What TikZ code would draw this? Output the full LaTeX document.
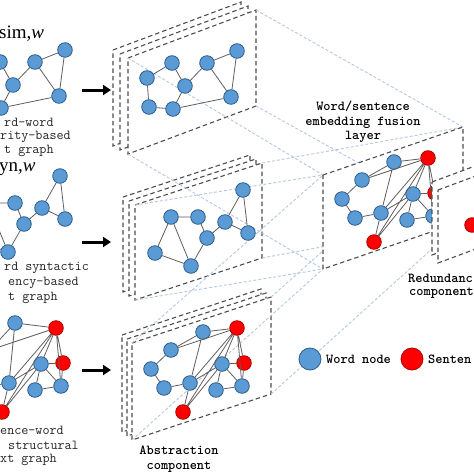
\documentclass[tikz,border=0pt]{standalone}
\usepackage{fontspec}
\setmainfont{Liberation Serif}
\usetikzlibrary{arrows.meta}
\definecolor{nblue}{HTML}{5B9BD5}
\definecolor{nblueD}{HTML}{2E5C8A}
\definecolor{nred}{HTML}{FF0000}
\definecolor{nredD}{HTML}{B00000}
\definecolor{edgegray}{HTML}{5F5F5F}
\definecolor{framegray}{HTML}{4D4D4D}
\definecolor{projblue}{HTML}{B4C8E0}
\definecolor{txtgray}{HTML}{262626}
\tikzset{
 wn/.style={circle,fill=nblue,draw=nblueD,line width=0.8pt,minimum size=14.6pt,inner sep=0pt},
 sn/.style={wn,fill=nred,draw=nredD},
 ge/.style={draw=edgegray,line width=0.8pt},
 frame/.style={draw=framegray,fill=white,line width=1.1pt,dash pattern=on 4.5pt off 3pt},
 proj/.style={draw=projblue,line width=0.9pt,dash pattern=on 3pt off 2pt},
 bigarrow/.style={-{Triangle[length=8pt,width=10pt]},line width=3pt,black},
 lbl/.style={font=\ttfamily\fontsize{13.7}{13.7}\selectfont,text=txtgray,inner sep=0pt,anchor=west},
 blbl/.style={font=\ttfamily\bfseries\fontsize{13.7}{14.6}\selectfont,inner sep=0pt,align=center},
 supl/.style={font=\fontsize{19}{19}\selectfont,inner sep=0pt,anchor=west},
}
\newcommand{\plane}[5]{\path[frame] (#1,#2) -- ++(#3,#4) -- ++(0,#5) -- ++({-(#3)},{-(#4)}) -- cycle;}
\newcommand{\topgraph}[1]{%
 \node[wn] (#1t1) at (147,78) {};
 \node[wn] (#1t2) at (172,63) {};
 \node[wn] (#1t3) at (207,63) {};
 \node[wn] (#1t4) at (237,51) {};
 \node[wn] (#1t5) at (185,86) {};
 \node[wn] (#1t6) at (149,107) {};
 \node[wn] (#1t7) at (173,109) {};
 \node[wn] (#1t8) at (231,97) {};
 \draw[ge] (#1t1)--(#1t2) (#1t1)--(#1t6) (#1t6)--(#1t7) (#1t7)--(#1t5) (#1t2)--(#1t5)
  (#1t5)--(#1t3) (#1t3)--(#1t4) (#1t3)--(#1t8) (#1t4)--(#1t8) (#1t7)--(#1t8);
}
\newcommand{\midgraph}[1]{%
 \node[wn] (#1m1) at (243,190) {};
 \node[wn] (#1m2) at (171,217) {};
 \node[wn] (#1m3) at (198,217) {};
 \node[wn] (#1m4) at (225,222) {};
 \node[wn] (#1m5) at (248,233) {};
 \node[wn] (#1m6) at (207,238) {};
 \node[wn] (#1m7) at (155,253) {};
 \node[wn] (#1m8) at (191,266) {};
 \draw[ge] (#1m2)--(#1m3) (#1m2)--(#1m7) (#1m2)--(#1m8) (#1m7)--(#1m8) (#1m8)--(#1m6)
  (#1m3)--(#1m6) (#1m6)--(#1m4) (#1m4)--(#1m1) (#1m4)--(#1m5) (#1m1)--(#1m5);
}
\newcommand{\absgraph}[2]{%
 \node[wn] (#1a1) at #2 {};
 \node[sn] (#1a2) at (237,328) {};
 \node[wn] (#1a3) at (171,350) {};
 \node[wn] (#1a4) at (151,369) {};
 \node[wn] (#1a5) at (222,364) {};
 \node[sn] (#1a6) at (244,363) {};
 \node[wn] (#1a7) at (190,383) {};
 \node[wn] (#1a8) at (164,388) {};
 \node[wn] (#1a9) at (216,390) {};
 \node[wn] (#1a10) at (242,386) {};
 \node[sn] (#1a11) at (183,412) {};
 \draw[ge] (#1a1)--(#1a2) (#1a3)--(#1a1) (#1a3)--(#1a2) (#1a3)--(#1a4) (#1a4)--(#1a8)
  (#1a8)--(#1a7) (#1a7)--(#1a1) (#1a7)--(#1a5) (#1a7)--(#1a2) (#1a7)--(#1a11)
  (#1a5)--(#1a6) (#1a5)--(#1a9) (#1a5)--(#1a10) (#1a9)--(#1a10) (#1a6)--(#1a10)
  (#1a2)--(#1a5) (#1a2)--(#1a6) (#1a2)--(#1a10) (#1a2)--(#1a11) (#1a11)--(#1a5);
}
\begin{document}
\begin{tikzpicture}[x=1pt,y=-1pt]
\useasboundingbox (0,0) rectangle (474,474);
\clip (0,0) rectangle (474,474);
\fill[white] (0,0) rectangle (474,474);

% corner coordinates
\coordinate (tTL) at (128,58);  \coordinate (tTR) at (256,10);
\coordinate (tBR) at (256,106); \coordinate (tBL) at (128,154);
\coordinate (mTL) at (135,205); \coordinate (mTR) at (262,163);
\coordinate (mBR) at (262,258); \coordinate (mBL) at (135,300);
\coordinate (bTL) at (132,343); \coordinate (bTR) at (271,297);
\coordinate (bBR) at (271,394); \coordinate (bBL) at (132,440);
\coordinate (fTL) at (323,175); \coordinate (fTR) at (463,127);
\coordinate (fBR) at (463,221); \coordinate (fBL) at (323,269);

% stacks
\plane{113}{50}{128}{-48}{96}
\plane{120}{54}{128}{-48}{96}
\plane{128}{58}{128}{-48}{96}
\plane{123}{197}{127}{-42}{95}
\plane{129}{201}{127}{-42}{95}
\plane{135}{205}{127}{-42}{95}
\plane{122}{335}{139}{-46}{97}
\plane{127}{339}{139}{-46}{97}
\plane{132}{343}{139}{-46}{97}

% projection lines
\foreach \s in {t,m,b}{
 \draw[proj] (\s TL) -- (fTL);
 \draw[proj] (\s TR) -- (fTR);
 \draw[proj] (\s BR) -- (fBR);
 \draw[proj] (\s BL) -- (fBL);
}

% stack graphs
\topgraph{s}
\midgraph{s}
\absgraph{s}{(203,332)}

% input graphs (shifted copies)
\begin{scope}[shift={(-172,-1)}]
 \topgraph{i}
\end{scope}
\begin{scope}[shift={(-183,-14)}]
 \midgraph{i}
\end{scope}
\begin{scope}[shift={(-181,0)}]
 \absgraph{i}{(196,323)}
\end{scope}

% fusion plane and graph
\plane{323}{175}{140}{-48}{94}
\begin{scope}[shift={(191,-170)}]
 \absgraph{f}{(203,332)}
\end{scope}

% redundancy planes
\plane{432}{182}{140}{-52}{73}
\plane{438}{190}{140}{-52}{73}
\node[sn] (r1) at (472,225) {};

% arrows
\coordinate (a1s) at (82,90);  \coordinate (a1e) at (111,90);
\coordinate (a2s) at (82,242); \coordinate (a2e) at (111,242);
\coordinate (a3s) at (82,370); \coordinate (a3e) at (111,370);
\draw[bigarrow] (a1s) -- (a1e);
\draw[bigarrow] (a2s) -- (a2e);
\draw[bigarrow] (a3s) -- (a3e);

% input labels
\node[supl] (simlbl) at (-1,34) {sim,\textit{w}};
\node[supl] (synlbl) at (-1,169) {yn,\textit{w}};
\node[lbl] (l1a) at (4,122) {rd-word};
\node[lbl] (l1b) at (0,137) {rity-based};
\node[lbl] (l1c) at (4,151) {t graph};
\node[lbl] (l2a) at (4,268) {rd syntactic};
\node[lbl] (l2b) at (8,283) {ency-based};
\node[lbl] (l2c) at (8,298) {t graph};
\node[lbl] (l3a) at (0,430) {ence-word};
\node[lbl] (l3b) at (8,445) {structural};
\node[lbl] (l3c) at (0,460) {xt graph};

% component labels
\node[blbl] (fuslbl) at (363,122) {Word/sentence\\embedding fusion\\layer};
\node[blbl] (abslbl) at (179,459.5) {Abstraction\\component};
\node[blbl,anchor=west] (red1) at (408,278) {Redundanc};
\node[blbl,anchor=west] (red2) at (409,293) {component};

% legend
\node[wn,minimum size=22pt] (legw) at (310,359) {};
\node[blbl,anchor=west] (legwt) at (326,359) {Word node};
\node[sn,minimum size=22pt] (legs) at (412,359) {};
\node[blbl,anchor=west] (legst) at (428,359) {Senten};
\end{tikzpicture}
\end{document}
